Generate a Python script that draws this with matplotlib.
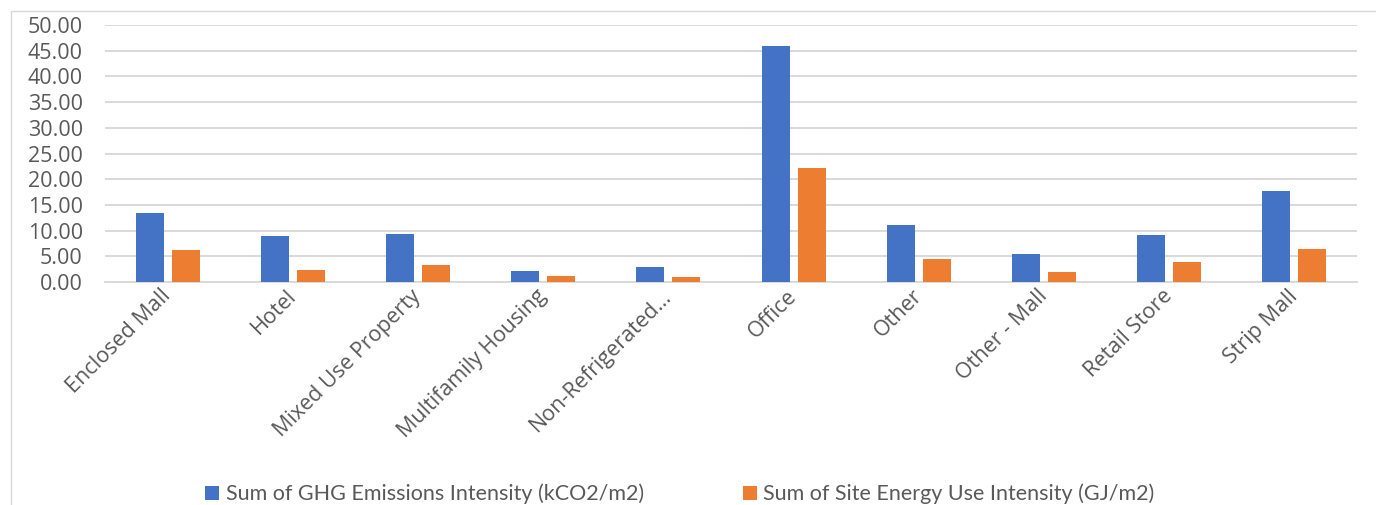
import matplotlib
matplotlib.use("Agg")
import matplotlib.pyplot as plt
import numpy as np
from matplotlib.patches import Rectangle

categories = ["Enclosed Mall", "Hotel", "Mixed Use Property", "Multifamily Housing",
              "Non-Refrigerated\u2026", "Office", "Other", "Other - Mall",
              "Retail Store", "Strip Mall"]
ghg_intensity = [13.50, 8.90, 9.40, 2.10, 2.85, 45.85, 11.15, 5.40, 9.10, 17.75]
energy_intensity = [6.30, 2.40, 3.30, 1.10, 0.97, 22.25, 4.55, 2.00, 3.90, 6.40]
series_names = ["Sum of GHG Emissions Intensity (kCO2/m2)",
                "Sum of Site Energy Use Intensity (GJ/m2)"]
yticks = [0, 5, 10, 15, 20, 25, 30, 35, 40, 45, 50]

BLUE = "#4472C4"
ORANGE = "#ED7D31"
GRID = "#D9D9D9"
TEXT = "#595959"

W, H = 1376, 505
fig = plt.figure(figsize=(W / 100, H / 100), dpi=100)

# chart area border
fig.patches.append(Rectangle((11 / W, -0.1), 1.2, 1.1 - 11 / H, transform=fig.transFigure,
                             fill=False, edgecolor=GRID, linewidth=1.0))

ax = fig.add_axes([105 / W, 1 - 282 / H, (1357 - 105) / W, (282 - 25) / H])

x = np.arange(len(categories))
bw = 0.224
gap = 0.064
off = (bw + gap) / 2
ax.bar(x - off, ghg_intensity, bw, color=BLUE, label=series_names[0], zorder=3)
ax.bar(x + off, energy_intensity, bw, color=ORANGE, label=series_names[1], zorder=3)

ax.set_xlim(-0.5, len(categories) - 0.5)
ax.set_ylim(0, 50)
ax.set_yticks(yticks)
ax.set_yticklabels([f"{v:.2f}" for v in yticks], fontfamily="Open Sans",
                   fontsize=15.5, color=TEXT)
ax.yaxis.grid(True, color=GRID, linewidth=1.4, zorder=0)
ax.set_axisbelow(True)
for s in ["top", "right", "left"]:
    ax.spines[s].set_visible(False)
ax.spines["bottom"].set_color(GRID)
ax.spines["bottom"].set_linewidth(1.4)
ax.tick_params(axis="y", length=0, pad=16)
ax.tick_params(axis="x", length=0, pad=8)

ax.set_xticks(x)
ax.set_xticklabels(categories, rotation=45, ha="right", va="center",
                   rotation_mode="anchor", fontfamily="Open Sans",
                   fontsize=15.5, color=TEXT)

handles, labels = ax.get_legend_handles_labels()
leg = fig.legend(handles, labels, loc="center", bbox_to_anchor=(680 / W, 1 - 494 / H),
                 ncol=2, frameon=False, handlelength=0.65, handleheight=0.65,
                 handletextpad=0.3, columnspacing=4.6,
                 prop={"family": "Lato", "size": 15.5})
for t in leg.get_texts():
    t.set_color(TEXT)

fig.savefig("out.png", dpi=100, facecolor="white")
